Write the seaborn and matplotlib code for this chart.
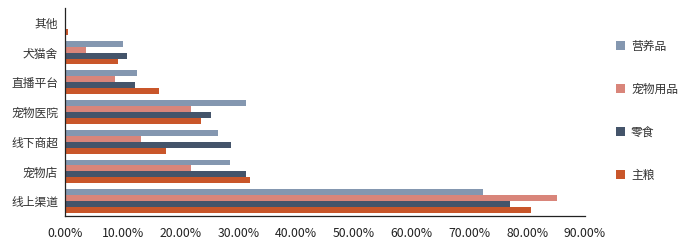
import matplotlib
matplotlib.use("Agg")
import matplotlib.pyplot as plt
import seaborn as sns
import pandas as pd
from matplotlib.ticker import FuncFormatter

categories = ["其他", "犬猫舍", "直播平台", "宠物医院", "线下商超", "宠物店", "线上渠道"]
series = ["营养品", "宠物用品", "零食", "主粮"]
nutrition = [0.1, 10.0, 12.4, 31.3, 26.4, 28.5, 72.4]
supplies = [0.2, 3.7, 8.7, 21.8, 13.1, 21.8, 85.2]
snacks = [0.0, 10.8, 12.2, 25.2, 28.7, 31.3, 77.1]
staple = [0.5, 9.2, 16.2, 23.5, 17.4, 32.0, 80.7]
colors = ["#8497B0", "#D9857A", "#44546A", "#C9562A"]

rows = []
for s, vals in zip(series, [nutrition, supplies, snacks, staple]):
    for c, v in zip(categories, vals):
        rows.append({"渠道": c, "品类": s, "占比": v})
df = pd.DataFrame(rows)

sns.set_style("white")
plt.rcParams["font.family"] = ["Noto Sans CJK SC", "DejaVu Sans"]

fig = plt.figure(figsize=(7, 2.45), dpi=100)
ax = fig.add_axes([65 / 700, 1 - 216 / 245, 520 / 700, 208 / 245])
sns.barplot(data=df, y="渠道", x="占比", hue="品类", order=categories,
            hue_order=series, palette=colors, orient="h", width=0.8,
            saturation=1, linewidth=0, ax=ax, legend=True)

ax.set_xlim(0, 90)
ax.set_xticks(range(0, 91, 10))
ax.xaxis.set_major_formatter(FuncFormatter(lambda v, p: f"{v:.2f}%"))
ax.set_xlabel("")
ax.set_ylabel("")
for side in ["top", "right"]:
    ax.spines[side].set_visible(False)
for side in ["left", "bottom"]:
    ax.spines[side].set_color("#222222")
    ax.spines[side].set_linewidth(0.9)
ax.tick_params(axis="x", direction="in", length=4, labelsize=8.8, colors="#222222", pad=8)
ax.tick_params(axis="y", length=0, labelsize=8.5, colors="#333333", pad=5)
ax.set_yticks(range(len(categories)))
ax.set_yticks([i + 0.5 for i in range(-1, len(categories))], minor=True)
ax.tick_params(axis="y", which="minor", direction="in", length=4, color="#222222")
ax.set_ylim(len(categories) - 0.5, -0.5)
ax.grid(False)

handles, labels = ax.get_legend_handles_labels()
ax.legend(handles, labels, loc="upper left", bbox_to_anchor=(605 / 700, 1 - 29 / 245),
          bbox_transform=fig.transFigure, frameon=False, fontsize=8.5,
          handlelength=0.8, handleheight=0.8, handletextpad=0.5,
          labelspacing=2.55, labelcolor="#333333")

fig.savefig("out.png", dpi=100)
